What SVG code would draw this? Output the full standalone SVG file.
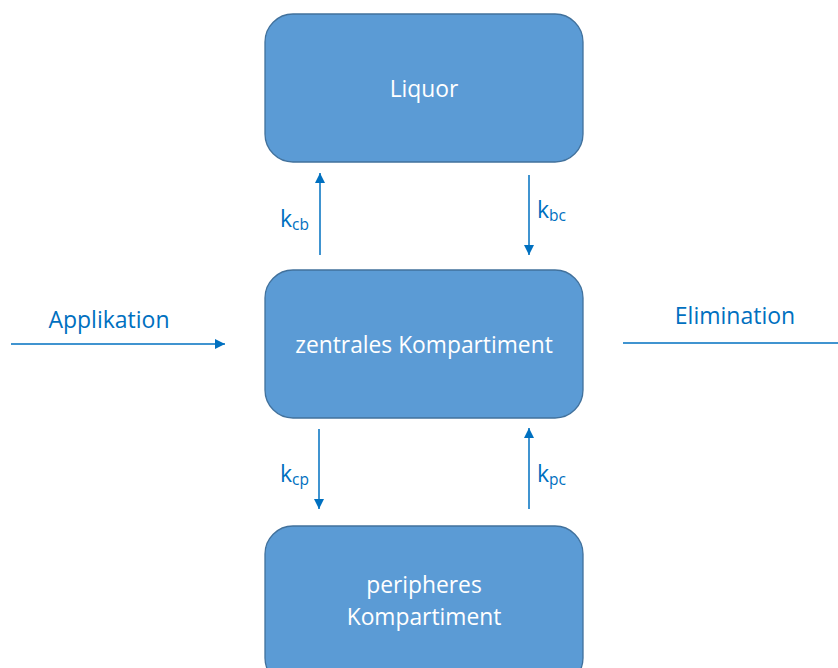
<svg xmlns="http://www.w3.org/2000/svg" width="838" height="668" viewBox="0 0 838 668">
<defs>
<style>
.box{fill:#5B9BD5;stroke:#41719C;stroke-width:1.3}
.bt{font-family:"Open Sans","Liberation Sans",sans-serif;font-size:22.8px;fill:#FFFFFF;text-anchor:middle}
.lbl{font-family:"Open Sans","Liberation Sans",sans-serif;font-size:23px;fill:#0070C0}
.sub{font-size:15.5px}
.ln{stroke:#0070C0;stroke-width:1.5;fill:none}
</style>
<marker id="ah" viewBox="0 0 10 10" refX="10" refY="5" markerWidth="10" markerHeight="10" markerUnits="userSpaceOnUse" orient="auto">
<path d="M0,0 L10,5 L0,10 z" fill="#0070C0"/>
</marker>
</defs>
<rect width="838" height="668" fill="#FFFFFF"/>
<g id="liquor">
<rect class="box" x="265" y="14" width="318" height="148" rx="28"/>
<text class="bt" x="424" y="97">Liquor</text>
</g>
<g id="zentral">
<rect class="box" x="265" y="270" width="318" height="148" rx="28"/>
<text class="bt" x="424" y="353">zentrales Kompartiment</text>
</g>
<g id="peripher">
<rect class="box" x="265" y="526" width="318" height="160" rx="28"/>
<text class="bt" x="424" y="593">peripheres</text>
<text class="bt" x="424" y="625">Kompartiment</text>
</g>
<g id="connectors">
<line class="ln" x1="320" y1="255" x2="320" y2="173" marker-end="url(#ah)"/>
<line class="ln" x1="529" y1="175" x2="529" y2="255" marker-end="url(#ah)"/>
<line class="ln" x1="319" y1="429" x2="319" y2="509" marker-end="url(#ah)"/>
<line class="ln" x1="529" y1="509" x2="529" y2="428" marker-end="url(#ah)"/>
<line class="ln" x1="11" y1="344" x2="225" y2="344" marker-end="url(#ah)"/>
<line class="ln" x1="623" y1="343" x2="838" y2="343"/>
</g>
<g id="labels">
<text class="lbl" x="280" y="227">k<tspan class="sub" dy="3">cb</tspan></text>
<text class="lbl" x="537" y="218">k<tspan class="sub" dy="3">bc</tspan></text>
<text class="lbl" x="280" y="482">k<tspan class="sub" dy="3">cp</tspan></text>
<text class="lbl" x="537" y="482">k<tspan class="sub" dy="3">pc</tspan></text>
<text class="lbl" x="109" y="328" text-anchor="middle">Applikation</text>
<text class="lbl" x="735" y="324" text-anchor="middle">Elimination</text>
</g>
</svg>
